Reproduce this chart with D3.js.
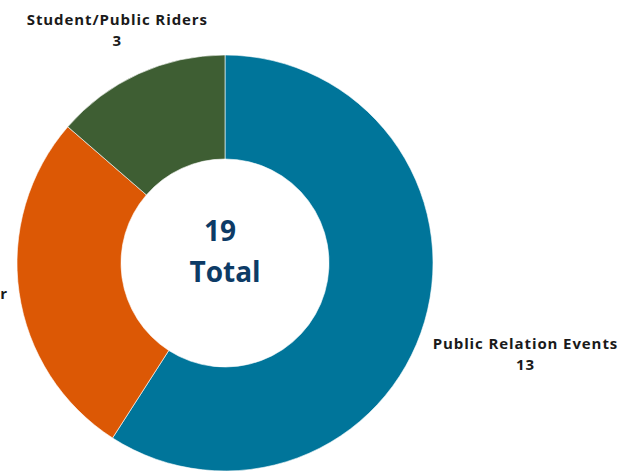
<!DOCTYPE html>
<html>
<head>
<meta charset="utf-8">
<script src="https://cdn.jsdelivr.net/npm/d3@7"></script>
<style>
  body { margin: 0; background: #fff; }
  svg { display: block; }
  .slice-label { font-family: "Open Sans", "DejaVu Sans", sans-serif; font-weight: 700; font-size: 15px; letter-spacing: 0.9px; fill: #1a1a1a; }
  .center-text { font-family: "Open Sans", "DejaVu Sans", sans-serif; font-weight: 700; font-size: 28px; fill: #0d3b66; }
</style>
</head>
<body>
<div id="chart"></div>
<script>
// chart data
var categories = ["Public Relation Events", "Other", "Student/Public Riders"];
var counts = [13, 6, 3];
var colors = ["#00759a", "#dc5805", "#3e5e33"];
var centerLines = ["19", "Total"];

var svgWidth = 619;
var svgHeight = 471;

var cx = 225;
var cy = 263;
var outerR = 208;
var innerR = 104;

var svg = d3.select("#chart")
    .append("svg")
    .attr("width", svgWidth)
    .attr("height", svgHeight);

var chartGroup = svg.append("g")
    .attr("transform", `translate(${cx}, ${cy})`);

var pieData = categories.map((c, i) => ({ name: c, value: counts[i], color: colors[i] }));

var pie = d3.pie()
    .sort(null)
    .value(d => d.value);

var arc = d3.arc()
    .innerRadius(innerR)
    .outerRadius(outerR);

var arcs = pie(pieData);

chartGroup.selectAll("path")
    .data(arcs)
    .enter()
    .append("path")
    .attr("d", arc)
    .attr("fill", d => d.data.color)
    .attr("stroke", "#fff")
    .attr("stroke-width", 0.6);

// outside labels: box centre sits on the slice's middle ray, box edge ~27px past the rim
var labelGap = outerR + 27;
var lineH = 21;
var boxH = 44;
var minVisible = 8; // keep a sliver of a label on the canvas

arcs.forEach(function (d) {
    var mid = (d.startAngle + d.endAngle) / 2;
    var vx = Math.sin(mid);
    var vy = -Math.cos(mid);

    var g = chartGroup.append("g");
    var t = g.append("text")
        .attr("class", "slice-label")
        .attr("text-anchor", "middle");
    t.append("tspan").attr("x", 0).attr("y", 0).text(d.data.name);
    t.append("tspan").attr("x", 0).attr("dy", lineH).text(d.data.value);

    var w = t.node().getBBox().width + 8;
    var dist = labelGap + Math.min(
        Math.abs(vx) > 1e-6 ? w / 2 / Math.abs(vx) : Infinity,
        Math.abs(vy) > 1e-6 ? boxH / 2 / Math.abs(vy) : Infinity);
    var bx = vx * dist;
    var by = vy * dist;
    // clamp so the right edge of a label that runs off the left side still shows
    if (cx + bx + (w - 8) / 2 < minVisible) {
        bx = minVisible - cx - (w - 8) / 2;
    }
    g.attr("transform", `translate(${bx}, ${by - 2})`);
});

// center text
chartGroup.append("text")
    .attr("class", "center-text")
    .attr("text-anchor", "middle")
    .attr("x", -5)
    .attr("y", -22)
    .text(centerLines[0]);

chartGroup.append("text")
    .attr("class", "center-text")
    .attr("text-anchor", "middle")
    .attr("x", 0)
    .attr("y", 19)
    .text(centerLines[1]);
</script>
</body>
</html>
